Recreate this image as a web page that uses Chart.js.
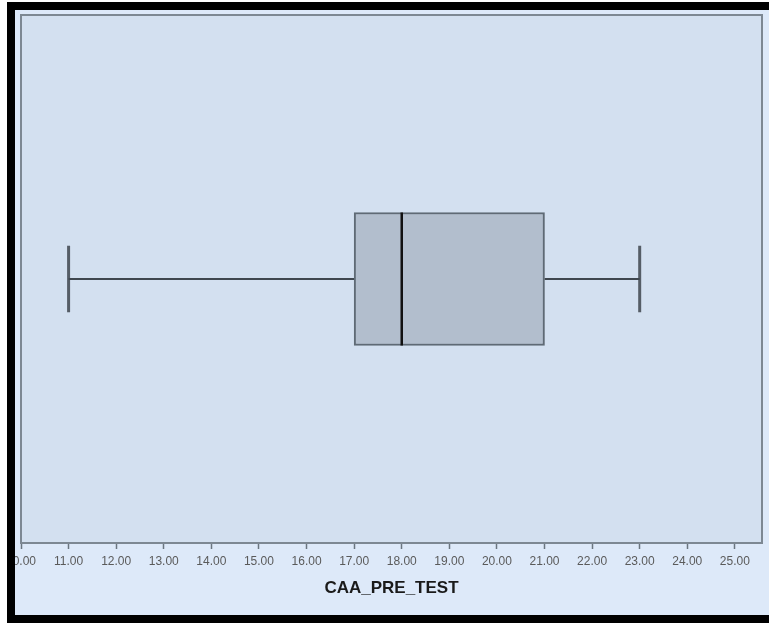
<!DOCTYPE html>
<html>
<head>
<meta charset="utf-8">
<script src="https://cdn.jsdelivr.net/npm/chart.js@4.4.1/dist/chart.umd.min.js"></script>
<style>
  html, body { margin: 0; padding: 0; background: #ffffff; }
  #frame { position: absolute; left: 7px; top: 2px; width: 762px; height: 621px; background: #000; }
  #wrap { position: absolute; left: 8px; top: 8px; width: 754px; height: 605px; background: #dde9f9; }
</style>
</head>
<body>
<div id="frame">
  <div id="wrap"><canvas id="boxChart" width="754" height="605"></canvas></div>
</div>
<script>
// CAA_PRE_TEST box plot summary
const axisTitle = "CAA_PRE_TEST";
const tickValues = [10, 11, 12, 13, 14, 15, 16, 17, 18, 19, 20, 21, 22, 23, 24, 25];
const whiskerLow = 11;
const quartile1 = 17;
const median = 18;
const quartile3 = 21;
const whiskerHigh = 23;

const boxHalf = 0.252;   // box half-height in y units
const capHalf = 0.126;   // whisker cap half-height

const plotFrame = {
  id: 'plotFrame',
  beforeDatasetsDraw(chart) {
    const { ctx, chartArea: a } = chart;
    ctx.save();
    ctx.fillStyle = '#d3e0f0';
    ctx.fillRect(a.left, a.top, a.right - a.left, a.bottom - a.top);
    ctx.strokeStyle = '#7d8893';
    ctx.lineWidth = 2;
    ctx.strokeRect(a.left, a.top, a.right - a.left, a.bottom - a.top);
    ctx.restore();
  }
};

const lineStyle = { type: 'line', borderColor: '#3f474f', borderWidth: 2, pointRadius: 0, fill: false, showLine: true, order: 3 };

new Chart(document.getElementById('boxChart'), {
  type: 'scatter',
  data: {
    datasets: [
      { ...lineStyle, data: [{ x: whiskerLow, y: 0 }, { x: quartile1, y: 0 }] },
      { ...lineStyle, data: [{ x: quartile3, y: 0 }, { x: whiskerHigh, y: 0 }] },
      { ...lineStyle, borderColor: '#555d66', borderWidth: 3, data: [{ x: whiskerLow, y: -capHalf }, { x: whiskerLow, y: capHalf }] },
      { ...lineStyle, borderColor: '#555d66', borderWidth: 3, data: [{ x: whiskerHigh, y: -capHalf }, { x: whiskerHigh, y: capHalf }] },
      {
        type: 'bar',
        indexAxis: 'y',
        order: 2,
        data: [{ x: [quartile1, quartile3], y: 0 }],
        backgroundColor: '#b2becd',
        borderColor: '#5f6a75',
        borderWidth: 2,
        borderSkipped: false,
        barThickness: 133
      },
      { ...lineStyle, order: 1, borderColor: '#111111', borderWidth: 2.5, data: [{ x: median, y: -boxHalf }, { x: median, y: boxHalf }] }
    ]
  },
  options: {
    responsive: false,
    animation: false,
    layout: { padding: { left: 6, right: 7, top: 5, bottom: 0 } },
    plugins: { legend: { display: false }, tooltip: { enabled: false } },
    scales: {
      x: {
        type: 'linear',
        min: 10,
        max: 25.57,
        afterBuildTicks(scale) { scale.ticks = tickValues.map(v => ({ value: v })); },
        afterFit(scale) { scale.paddingLeft = 0; scale.paddingRight = 0; scale.height = 72; },
        grid: { drawOnChartArea: false, drawTicks: true, tickLength: 6, tickColor: '#6b7680', tickWidth: 1.5 },
        border: { display: false },
        ticks: {
          autoSkip: false,
          maxRotation: 0,
          padding: 5,
          color: '#5a5a5a',
          font: { family: 'Arial, "Liberation Sans", sans-serif', size: 12 },
          callback: v => v.toFixed(2)
        },
        title: {
          display: true,
          text: axisTitle,
          color: '#1a1a1a',
          padding: { top: 0, bottom: 16 },
          font: { family: 'Arial, "Liberation Sans", sans-serif', size: 17, weight: 'bold' }
        }
      },
      y: {
        type: 'linear',
        display: false,
        offset: false,
        min: -1,
        max: 1
      }
    }
  },
  plugins: [plotFrame]
});
</script>
</body>
</html>
